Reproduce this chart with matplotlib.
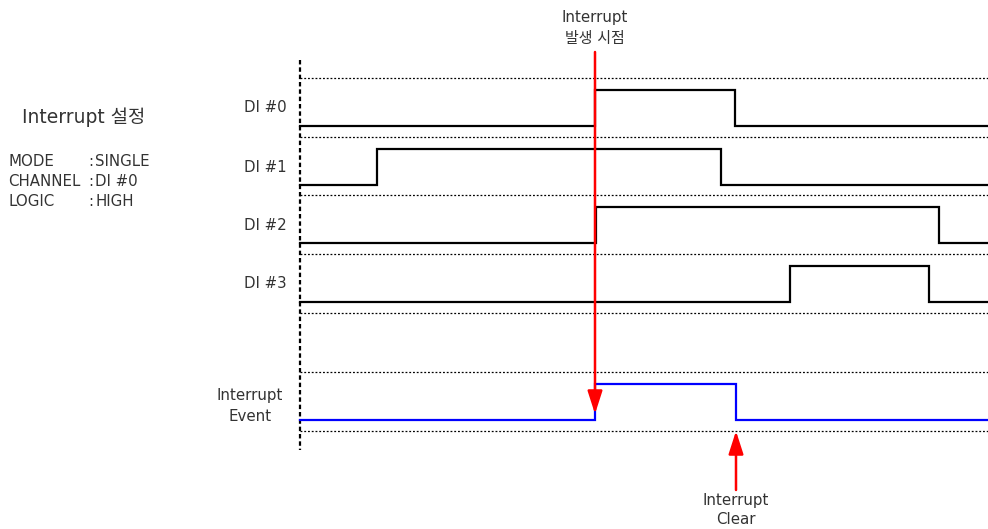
"""Interrupt timing diagram (DI #0..#3 and interrupt event)."""
import matplotlib
matplotlib.use("Agg")
import matplotlib.pyplot as plt

plt.rcParams['font.family'] = ['DejaVu Sans', 'Noto Sans CJK KR']

# time axis runs from t_start to t_end (same scale as the drawing width)
t_start, t_end = 300, 988
channels = ["DI #0", "DI #1", "DI #2", "DI #3"]
di_rise = [595, 377, 596, 790]
di_fall = [735, 721, 939, 929]
event_rise, event_fall = 595, 736

# rows: top dotted guide of each lane, lane height
lane_top = [78, 137, 195, 254]
event_top = 372
lane_h = 59
high_off, low_off = 12, 48  # level positions inside a lane

settings = [("MODE", "SINGLE"), ("CHANNEL", "DI #0"), ("LOGIC", "HIGH")]

TXT = "#333333"
FS = 10.8
fig = plt.figure(figsize=(9.88, 5.29), dpi=100)
ax = fig.add_axes([0, 0, 1, 1])
ax.set_xlim(0, 988)
ax.set_ylim(529, 0)
ax.axis("off")

dot = dict(color="black", lw=0.9, ls=(0, (1.5, 1.5)))

# lane guides
for y in lane_top + [lane_top[-1] + lane_h]:
    ax.plot([t_start, t_end], [y, y], **dot)
for y in [event_top, event_top + lane_h]:
    ax.plot([t_start, t_end], [y, y], **dot)
ax.plot([t_start, t_start], [60, 450], color="black", lw=1.6, ls=(0, (2, 1.3)))


def wave(top, rise, fall):
    lo, hi = top + low_off, top + high_off
    xs = [t_start, rise, rise, fall, fall, t_end]
    ys = [lo, lo, hi, hi, lo, lo]
    return xs, ys


for name, top, r, f in zip(channels, lane_top, di_rise, di_fall):
    xs, ys = wave(top, r, f)
    ax.plot(xs, ys, color="black", lw=1.6, solid_joinstyle="miter")
    ax.text(265, top + 30, name, ha="center", va="center", fontsize=FS, color=TXT)

xs, ys = wave(event_top, event_rise, event_fall)
ax.plot(xs, ys, color="#0000ff", lw=1.6, solid_joinstyle="miter")
ax.text(250, event_top + 34, "Interrupt\nEvent", ha="center", va="center",
        fontsize=FS, color=TXT, linespacing=1.45)

# interrupt occurrence arrow
ax.annotate("", xy=(event_rise, event_top + 42), xytext=(event_rise, 52),
            arrowprops=dict(arrowstyle="-|>,head_length=1.4,head_width=0.45",
                            color="#ff0000", lw=1.8, shrinkA=0, shrinkB=0))
ax.text(event_rise, 28, "Interrupt\n발생 시점", ha="center", va="center",
        fontsize=FS, color=TXT, linespacing=1.5)

# interrupt clear arrow
ax.annotate("", xy=(event_fall, event_top + lane_h), xytext=(event_fall, 490),
            arrowprops=dict(arrowstyle="-|>,head_length=1.4,head_width=0.45",
                            color="#ff0000", lw=1.8, shrinkA=0, shrinkB=0))
ax.text(event_fall, 510, "Interrupt\nClear", ha="center", va="center",
        fontsize=FS, color=TXT, linespacing=1.3)

# settings block
ax.text(84, 117, "Interrupt 설정", ha="center", va="center", fontsize=13.5, color=TXT)
for i, (k, v) in enumerate(settings):
    y = 162 + i * 19.5
    ax.text(8, y, k, ha="left", va="center", fontsize=FS, color=TXT)
    ax.text(88, y, ":", ha="left", va="center", fontsize=FS, color=TXT)
    ax.text(95, y, v, ha="left", va="center", fontsize=FS, color=TXT)

fig.savefig("out.png", dpi=100)
